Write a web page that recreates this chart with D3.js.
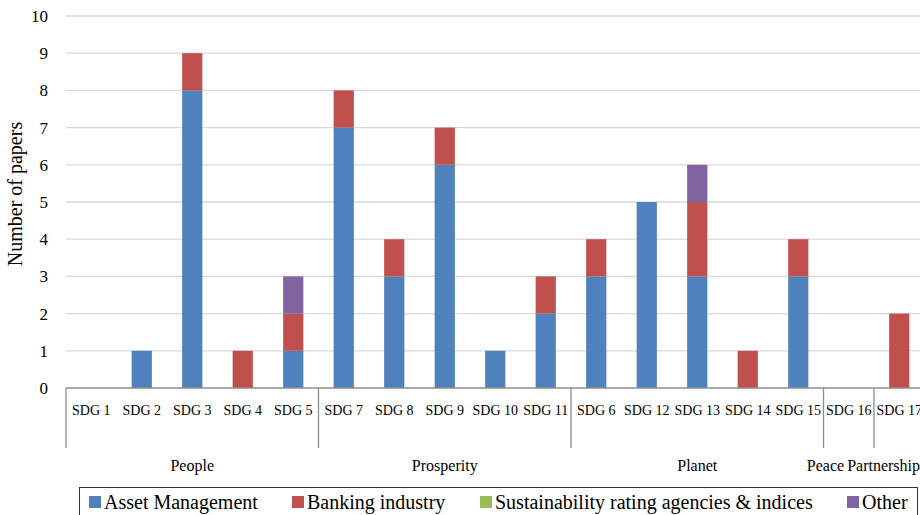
<!DOCTYPE html>
<html><head><meta charset="utf-8">
<script src="https://cdn.jsdelivr.net/npm/d3@7"></script>
<style>body{margin:0;background:#fff;overflow:hidden}svg{display:block}text{font-family:"Liberation Serif","Times New Roman",serif;fill:#000}</style>
</head><body>
<svg id="c" width="920" height="515"></svg>
<script>
const categories = ["SDG 1","SDG 2","SDG 3","SDG 4","SDG 5","SDG 7","SDG 8","SDG 9","SDG 10","SDG 11","SDG 6","SDG 12","SDG 13","SDG 14","SDG 15","SDG 16","SDG 17"];
const groups = ["People","People","People","People","People","Prosperity","Prosperity","Prosperity","Prosperity","Prosperity","Planet","Planet","Planet","Planet","Planet","Peace","Partnership"];
const assetManagement = [0,1,8,0,1,7,3,6,1,2,3,5,3,0,3,0,0];
const bankingIndustry = [0,0,1,1,1,1,1,1,0,1,1,0,2,1,1,0,2];
const ratingAgencies  = [0,0,0,0,0,0,0,0,0,0,0,0,0,0,0,0,0];
const other           = [0,0,0,0,1,0,0,0,0,0,0,0,1,0,0,0,0];
const seriesNames = ["Asset Management","Banking industry","Sustainability rating agencies & indices","Other"];
const colors = ["#4F81BD","#C0504D","#9BBB59","#8064A2"];
const yTicks = [0,1,2,3,4,5,6,7,8,9,10];

const svg = d3.select("#c");
const plotLeft = 66, bandW = 50.5, plotTop = 16, plotBottom = 388;
const x = d3.scaleBand().domain(categories).range([plotLeft, plotLeft + bandW*categories.length]).paddingInner(0.6).paddingOuter(0.3);
const y = d3.scaleLinear().domain([0,10]).range([plotBottom, plotTop]);

const rows = categories.map((c,i)=>({cat:c, a:assetManagement[i], b:bankingIndustry[i], r:ratingAgencies[i], o:other[i]}));
const stack = d3.stack().keys(["a","b","r","o"])(rows);

// gridlines
svg.append("g").selectAll("line").data(yTicks.filter(d=>d>0)).join("line")
  .attr("x1", plotLeft).attr("x2", 920).attr("y1", d=>y(d)).attr("y2", d=>y(d))
  .attr("stroke","#d9d9d9").attr("stroke-width",1.3);

// y axis labels
svg.append("g").selectAll("text").data(yTicks).join("text")
  .attr("x", 48).attr("y", d=>y(d)+6).attr("text-anchor","end")
  .style("font-size","17px").text(d=>d);

// bars
svg.append("g").selectAll("g").data(stack).join("g")
  .attr("fill",(d,i)=>colors[i])
  .selectAll("rect").data(d=>d.filter(s=>s[1]>s[0])).join("rect")
  .attr("x", d=>x(d.data.cat)).attr("width", x.bandwidth())
  .attr("y", d=>y(d[1])).attr("height", d=>y(d[0])-y(d[1]));

// x axis line
svg.append("line").attr("x1",plotLeft).attr("x2",920).attr("y1",plotBottom).attr("y2",plotBottom)
  .attr("stroke","#8c8c8c").attr("stroke-width",1.3);

// category labels
svg.append("g").selectAll("text").data(categories).join("text")
  .attr("x", d=>x(d)+x.bandwidth()/2).attr("y", 415).attr("text-anchor","middle")
  .style("font-size","14px").text(d=>d);

// group separators and labels
const groupList = [];
groups.forEach((g,i)=>{
  if(!groupList.length || groupList[groupList.length-1].name!==g) groupList.push({name:g,start:i,end:i});
  else groupList[groupList.length-1].end=i;
});
const boundaries = [0, ...groupList.map(g=>g.end+1)];
svg.append("g").selectAll("line").data(boundaries).join("line")
  .attr("x1", d=>plotLeft+d*x.step()).attr("x2", d=>plotLeft+d*x.step())
  .attr("y1", plotBottom).attr("y2", 448).attr("stroke","#8c8c8c").attr("stroke-width",1.3);
const gl = svg.append("g").selectAll("text").data(groupList).join("text")
  .attr("y", 471).attr("text-anchor","start")
  .style("font-size","16px").text(g=>g.name);
// center labels, then shift to avoid overflow / overlap (right to left)
const nodes = gl.nodes();
const pos = nodes.map((n,i)=>{
  const w = n.getComputedTextLength();
  const g = groupList[i];
  return {w, x0: plotLeft+(g.start+g.end+1)/2*x.step() - w/2};
});
let limit = 920;
for (let i = pos.length-1; i >= 0; i--) {
  if (pos[i].x0 + pos[i].w > limit) pos[i].x0 = limit - pos[i].w;
  limit = pos[i].x0 - 3;
}
gl.attr("x",(d,i)=>pos[i].x0);

// y axis title
svg.append("text").attr("transform","translate(22,194) rotate(-90)").attr("text-anchor","middle")
  .style("font-size","20px").text("Number of papers");

// legend
svg.append("rect").attr("x",79.5).attr("y",487.5).attr("width",838).attr("height",40)
  .attr("fill","none").attr("stroke","#333").attr("stroke-width",1);
const legX = [89, 292, 480, 847];
const lg = svg.append("g").selectAll("g").data(seriesNames).join("g")
  .attr("transform",(d,i)=>`translate(${legX[i]},0)`);
lg.append("rect").attr("x",0).attr("y",496).attr("width",12).attr("height",12).attr("fill",(d,i)=>colors[i]);
lg.append("text").attr("x",15).attr("y",509).style("font-size","20px").text(d=>d);
</script>
</body></html>
